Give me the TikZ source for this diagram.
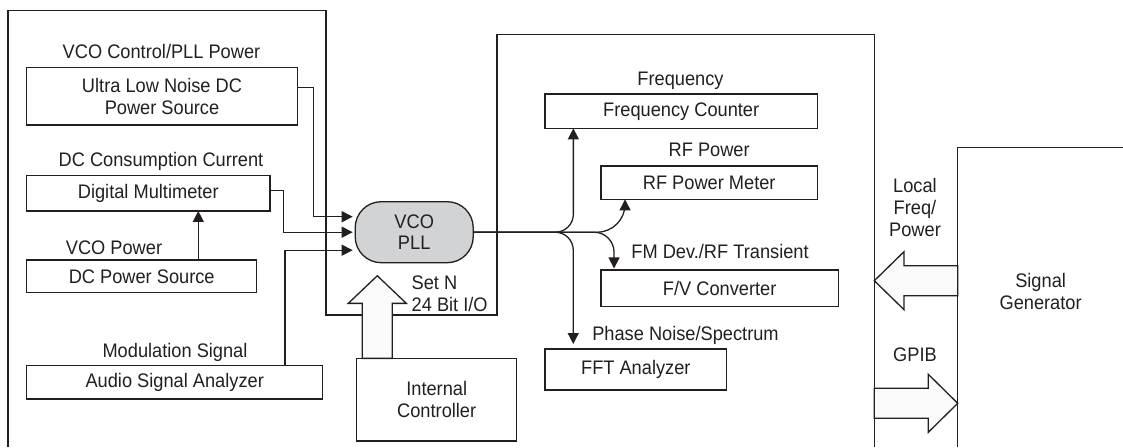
\documentclass[tikz,border=0pt]{standalone}
\usepackage{fontspec}
\setmainfont{Liberation Sans}[FakeStretch=0.93]
\usetikzlibrary{arrows.meta,calc}
\definecolor{ink}{RGB}{35,31,32}
\definecolor{vcogray}{RGB}{209,211,212}
\definecolor{hollow}{RGB}{250,250,250}
\begin{document}
\begin{tikzpicture}[x=1pt,y=-1pt,
  every node/.style={font=\fontsize{19.6pt}{21.7pt}\selectfont, text=ink, inner sep=0pt, outer sep=0pt},
  box/.style={draw=ink, line width=1.3pt, rectangle, align=center},
  lbl/.style={anchor=base, align=center},
  arr/.style={draw=ink, line width=1.3pt, -{Triangle[length=11pt,width=11pt]}},
  wire/.style={draw=ink, line width=1.3pt},
  hollowarrow/.style={draw=ink, line width=1.3pt, fill=hollow, line join=miter}]
\useasboundingbox (0,0) rectangle (1123,447);

% outer frame
\draw[wire] (8,447) -- (8,10.7) -- (326,10.7) -- (326,315) -- (497,315) -- (497,34.3) -- (874.3,34.3) -- (874.3,447);
% signal generator frame
\coordinate (sgc) at (957.7,147.7);
\draw[wire] (sgc |- 0,447) -- (sgc) -- (1123,147.7);

% boxes
\node[box, minimum width=270.6pt, minimum height=57.3pt] (ulnd) at (162,96.3) {Ultra Low Noise DC\\Power Source};
\node[box, minimum width=243.3pt, minimum height=35.3pt] (dmm) at (148.3,193.3) {Digital Multimeter};
\node[box, minimum width=230pt, minimum height=32.7pt] (dcps) at (141.7,276.3) {DC Power Source};
\node[box, minimum width=296pt, minimum height=33.3pt] (asa) at (174.7,382.3) {Audio Signal Analyzer};
\node[box, rounded corners=26pt, fill=vcogray, minimum width=118pt, minimum height=61pt] (vco) at (414.2,232.2) {VCO\\PLL};
\node[box, minimum width=160pt, minimum height=82.7pt] (ic) at (436.7,399.7) {Internal\\Controller};
\node[box, minimum width=272.3pt, minimum height=34.3pt] (fc) at (681.2,111.2) {Frequency Counter};
\node[box, minimum width=216.3pt, minimum height=33.3pt] (rfpm) at (709.2,182.7) {RF Power Meter};
\node[box, minimum width=237.3pt, minimum height=36.7pt] (fv) at (719.7,288.3) {F/V Converter};
\node[box, minimum width=181.7pt, minimum height=41pt] (fft) at (635.8,369.5) {FFT Analyzer};
\node[lbl] (sg) at (1040.6,309.3) {Signal\\Generator};

% labels
\node[lbl] (l1) at (161.5,58.3) {VCO Control/PLL Power};
\node[lbl] (l2) at (161,166.5) {DC Consumption Current};
\node[lbl] (l3) at (114,254.3) {VCO Power};
\node[lbl] (l4) at (175,357.7) {Modulation Signal};
\node[lbl] (l5) at (680.5,85) {Frequency};
\node[lbl] (l6) at (709.2,156.7) {RF Power};
\node[lbl] (l7) at (720,258.3) {FM Dev./RF Transient};
\node[lbl] (l8) at (685.5,340) {Phase Noise/Spectrum};
\node[anchor=base west, align=left] (l9) at (411.7,311) {Set N\\24 Bit I/O};
\node[lbl] (l10) at (915,236) {Local\\Freq/\\Power};
\node[lbl] (l11) at (915,361.7) {GPIB};

% inputs to VCO
\draw[arr] ($(ulnd.east)+(0,-9)$) -| ($(vco.west)+(-42,-15.5)$) -- ($(vco.west)+(-2.5,-15.5)$);
\draw[arr] ($(dmm.east)+(0,-2.6)$) -| ($(vco.west)+(-72,0)$) -- ($(vco.west)+(-2.5,0)$);
\draw[arr] ($(asa.north east)+(-37.7,0)$) |- ($(vco.west)+(-2.5,18)$);
\coordinate (dcpsout) at ($(dcps.north)+(56.6,0)$);
\draw[arr] (dcpsout) -- (dcpsout |- dmm.south);

% outputs from VCO
\draw[arr, rounded corners=18pt] (vco.east) -| ($(fc.south west)+(28.3,0)$);
\draw[arr, rounded corners=28pt] (vco.east) -| ($(rfpm.south west)+(24,0)$);
\draw[arr, rounded corners=20pt] (vco.east) -| ($(fv.north west)+(13,-1.5)$);
\draw[arr, rounded corners=18pt] (vco.east) -| ($(fft.north west)+(28.3,-5)$);

% hollow arrows
\coordinate (ua) at ($(ic.north west)+(20.6,0)$);
\draw[hollowarrow] ($(ua)+(-15,0)$) -- ($(ua)+(-15,-55)$) -- ($(ua)+(-29,-55)$) -- ($(ua)+(0,-82.6)$) -- ($(ua)+(29,-55)$) -- ($(ua)+(15,-55)$) -- ($(ua)+(15,0)$) -- cycle;
\coordinate (la) at (sgc |- 0,280.7);
\draw[hollowarrow] ($(la)+(0,-15)$) -- ($(la)+(-53.7,-15)$) -- ($(la)+(-53.7,-29)$) -- ($(la)+(-83.4,0)$) -- ($(la)+(-53.7,29)$) -- ($(la)+(-53.7,15)$) -- ($(la)+(0,15)$) -- cycle;
\coordinate (ra) at (874.3,403.3);
\draw[hollowarrow] ($(ra)+(0,-15)$) -- ($(ra)+(54,-15)$) -- ($(ra)+(54,-29)$) -- ($(ra)+(83.4,0)$) -- ($(ra)+(54,29)$) -- ($(ra)+(54,15)$) -- ($(ra)+(0,15)$) -- cycle;
\end{tikzpicture}
\end{document}
